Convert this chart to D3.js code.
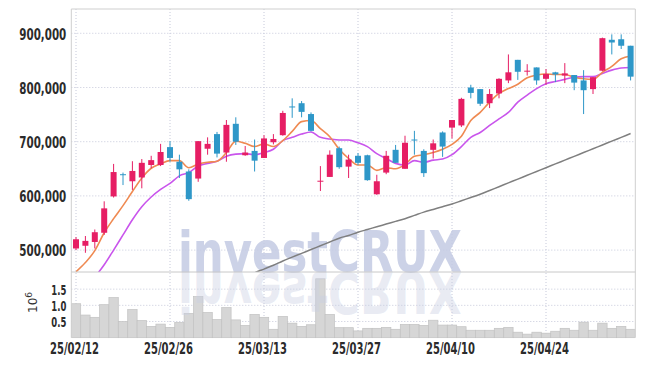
<!DOCTYPE html>
<html><head><meta charset="utf-8">
<script src="https://cdn.jsdelivr.net/npm/d3@7"></script>
<style>
html,body{margin:0;padding:0;background:#fff;}
svg{display:block;}
.tick text{font-family:"DejaVu Sans Condensed","DejaVu Sans",sans-serif;}
</style></head>
<body>
<svg id="chart" width="645" height="366"></svg>
<script>
const dates = ["25/02/12","25/02/13","25/02/14","25/02/17","25/02/18","25/02/19","25/02/20","25/02/21","25/02/24","25/02/25",
"25/02/26","25/02/27","25/02/28","25/03/04","25/03/05","25/03/06","25/03/07","25/03/10","25/03/11","25/03/12",
"25/03/13","25/03/14","25/03/17","25/03/18","25/03/19","25/03/20","25/03/21","25/03/24","25/03/25","25/03/26",
"25/03/27","25/03/28","25/03/31","25/04/01","25/04/02","25/04/03","25/04/04","25/04/07","25/04/08","25/04/09",
"25/04/10","25/04/11","25/04/14","25/04/15","25/04/16","25/04/17","25/04/18","25/04/21","25/04/22","25/04/23",
"25/04/24","25/04/25","25/04/28","25/04/29","25/04/30","25/05/02","25/05/07","25/05/08","25/05/09","25/05/12"];
const xTickLabels = ["25/02/12","25/02/26","25/03/13","25/03/27","25/04/10","25/04/24"];
// prices in thousands of won
const open  = [503,508,515,532,599,640,627,634,657,657,690,663,645,632,687,714,680,733,675,683,670,699,712,765,771,751,627,635,688,654,674,675,603,643,685,650,704,683,685,717,726,730,800,797,771,789,813,851,830,837,816,828,822,823,813,797,831,888,889,877];
const high  = [524,526,538,590,659,643,664,668,674,696,701,676,649,701,708,718,740,745,692,704,712,714,757,780,775,754,655,684,691,676,679,676,639,683,694,711,720,686,704,719,740,781,805,797,797,817,861,851,843,837,834,829,845,823,832,819,892,898,898,877];
const low   = [500,495,503,528,597,620,611,614,651,655,663,633,591,626,676,671,663,694,674,645,670,695,711,744,745,719,609,635,650,633,657,628,602,640,661,650,676,635,669,672,706,727,780,766,762,780,808,814,822,805,805,810,808,795,751,788,830,861,871,813];
const close = [520,517,533,577,644,639,646,661,666,681,670,649,594,701,696,678,731,700,680,665,706,705,753,764,755,720,628,676,653,667,661,629,627,674,661,698,703,642,697,691,740,779,790,770,788,816,828,829,831,813,825,824,826,809,795,819,891,883,877,820];
const ma5   = [460,477,499,532,558,582,608,633,651,659,665,665,652,659,662,664,680,701,697,691,696,691,702,719,737,739,724,709,686,669,657,657,647,652,650,658,673,676,680,686,695,710,739,754,773,789,798,806,818,823,825,824,824,819,816,815,828,839,853,858];
const ma10  = [410,428,450,473,500,528,556,580,598,612,623,637,643,655,660,664,673,677,678,676,680,686,702,708,714,718,708,705,703,703,698,691,678,669,660,657,665,662,666,668,676,691,708,717,730,742,754,773,786,798,807,811,815,819,820,820,826,832,836,837];
const ma60  = [null,null,null,null,null,null,null,null,null,null,null,null,null,null,null,null,null,null,448,458,465,472,480,487,494,501,508,515,522,527,533,538,543,548,553,558,564,570,575,580,585,591,597,603,610,617,624,631,638,645,652,659,666,673,680,687,694,701,708,715];
// volume in millions of shares
const volume = [1.05,0.70,0.63,1.02,1.24,0.50,0.87,0.53,0.35,0.42,0.32,0.47,0.75,1.27,0.78,0.56,0.93,0.55,0.38,0.72,0.63,0.26,0.66,0.45,0.35,0.40,1.82,0.72,0.31,0.31,0.21,0.29,0.29,0.32,0.26,0.41,0.41,0.38,0.54,0.39,0.39,0.34,0.23,0.23,0.23,0.29,0.32,0.17,0.11,0.17,0.14,0.20,0.29,0.23,0.48,0.23,0.45,0.29,0.35,0.26];
const priceTicks = [500000,600000,700000,800000,900000];
const volTicks = [0.5,1.0,1.5];

const svg = d3.select("#chart");
const L = 71.3, R = 635.3, T = 9, MB = 272, VB = 337.7;
const UP = "#e61e64", DOWN = "#2e97c8";

const x = d3.scaleBand().domain(dates).range([L, R]).padding(0);
const bw = x.bandwidth();
const cx = d => x(d) + bw / 2;
const y = d3.scaleLinear().domain([459.6, 944.8]).range([MB, T]);
const yv = d3.scaleLinear().domain([0, 2.03]).range([VB, MB]);

const defs = svg.append("defs");
defs.append("clipPath").attr("id","clipMain").append("rect").attr("x",L).attr("y",T).attr("width",R-L).attr("height",MB-T);
defs.append("clipPath").attr("id","clipVol").append("rect").attr("x",L).attr("y",MB).attr("width",R-L).attr("height",VB-MB+1);

const gridColor = "#c6c9da";
svg.append("g").selectAll("line").data(priceTicks).join("line")
  .attr("x1",L).attr("x2",R).attr("y1",d=>y(d/1000)).attr("y2",d=>y(d/1000))
  .attr("stroke",gridColor).attr("stroke-dasharray","1,2");
svg.append("g").selectAll("line").data(volTicks).join("line")
  .attr("x1",L).attr("x2",R).attr("y1",d=>yv(d)).attr("y2",d=>yv(d))
  .attr("stroke",gridColor).attr("stroke-dasharray","1,2");
svg.append("g").selectAll("line").data(xTickLabels).join("line")
  .attr("x1",d=>cx(d)).attr("x2",d=>cx(d)).attr("y1",T).attr("y2",VB)
  .attr("stroke",gridColor).attr("stroke-dasharray","1,2");

// volume bars
svg.append("g").attr("clip-path","url(#clipVol)").selectAll("rect").data(dates).join("rect")
  .attr("x",d=>x(d)).attr("width",bw)
  .attr("y",(d,i)=>yv(volume[i])).attr("height",(d,i)=>VB - yv(volume[i]))
  .attr("fill","#d6d6d6").attr("stroke","#c2c2c2").attr("stroke-width",0.7);

// watermark
const wmFont = '"DejaVu Sans","Liberation Sans",sans-serif';
svg.append("text").attr("x",178).attr("y",272).text("investCRUX")
  .attr("font-family",wmFont).attr("font-weight","bold")
  .attr("font-size",57).attr("textLength",284).attr("lengthAdjust","spacingAndGlyphs")
  .attr("fill","#c3cae3").attr("fill-opacity",0.85);
svg.append("g").attr("clip-path","url(#clipVol)")
  .append("text").attr("transform","translate(0,544) scale(1,-1)").attr("x",178).attr("y",272).text("investCRUX")
  .attr("font-family",wmFont).attr("font-weight","bold")
  .attr("font-size",57).attr("textLength",284).attr("lengthAdjust","spacingAndGlyphs")
  .attr("fill","#c9cfe3").attr("fill-opacity",0.42);

// moving averages
const lineGen = arr => d3.line().defined((d,i)=>arr[i]!=null).x(d=>cx(d)).y((d,i)=>y(arr[i])).curve(d3.curveMonotoneX)(dates);
const gLines = svg.append("g").attr("clip-path","url(#clipMain)");
gLines.append("path").attr("d",lineGen(ma60)).attr("fill","none").attr("stroke","#7f7f7f").attr("stroke-width",1.5);
gLines.append("path").attr("d",lineGen(ma10)).attr("fill","none").attr("stroke","#c955ec").attr("stroke-width",1.6);
gLines.append("path").attr("d",lineGen(ma5)).attr("fill","none").attr("stroke","#ef8a52").attr("stroke-width",1.6);

// candles
const gC = svg.append("g").attr("clip-path","url(#clipMain)");
const col = i => close[i] >= open[i] ? UP : DOWN;
gC.selectAll("line").data(dates).join("line")
  .attr("x1",d=>cx(d)).attr("x2",d=>cx(d))
  .attr("y1",(d,i)=>y(high[i])).attr("y2",(d,i)=>y(low[i]))
  .attr("stroke",(d,i)=>col(i)).attr("stroke-width",1);
const bodyW = 6;
gC.selectAll("rect").data(dates).join("rect")
  .attr("x",d=>cx(d)-bodyW/2).attr("width",bodyW)
  .attr("y",(d,i)=>y(Math.max(open[i],close[i])))
  .attr("height",(d,i)=>Math.max(1, Math.abs(y(open[i])-y(close[i]))))
  .attr("fill",(d,i)=>col(i));

// frame
const frame = svg.append("g").attr("stroke","#cfcfcf").attr("fill","none");
frame.append("line").attr("x1",L).attr("x2",R).attr("y1",T).attr("y2",T);
frame.append("line").attr("x1",L).attr("x2",L).attr("y1",T).attr("y2",VB);
frame.append("line").attr("x1",R).attr("x2",R).attr("y1",T).attr("y2",VB);
frame.append("line").attr("x1",L).attr("x2",R).attr("y1",MB).attr("y2",MB).attr("stroke","#c8c8c8");

// axes
const yAxis = d3.axisLeft(y).tickValues(priceTicks.map(d=>d/1000)).tickSize(0).tickPadding(5)
  .tickFormat((d,i)=>d3.format(",")(priceTicks[i]));
const gy = svg.append("g").attr("transform",`translate(${L},0)`).call(yAxis);
gy.select(".domain").remove();
gy.selectAll("text").attr("font-size",16).attr("font-weight","bold").attr("fill","#2b2b2b").attr("dy","0.36em")
  .attr("textLength",47).attr("lengthAdjust","spacingAndGlyphs");

const vAxis = d3.axisLeft(yv).tickValues(volTicks).tickSize(0).tickPadding(5).tickFormat(d3.format(".1f"));
const gv = svg.append("g").attr("transform",`translate(${L},0)`).call(vAxis);
gv.select(".domain").remove();
gv.selectAll("text").attr("font-size",13.5).attr("font-weight","bold").attr("fill","#2b2b2b").attr("dy","0.36em")
  .attr("textLength",15).attr("lengthAdjust","spacingAndGlyphs");

const xAxis = d3.axisBottom(x).tickValues(xTickLabels).tickSize(0).tickPadding(5);
const gx = svg.append("g").attr("transform",`translate(-1.5,${VB})`).call(xAxis);
gx.select(".domain").remove();
gx.selectAll("text").attr("font-size",15.5).attr("font-weight","bold").attr("fill","#2b2b2b")
  .attr("textLength",49).attr("lengthAdjust","spacingAndGlyphs");

// unit label 10^6
const ul = svg.append("text").attr("transform","translate(37,313) rotate(-90)")
  .attr("font-family",'"DejaVu Sans","Liberation Sans",sans-serif').attr("font-size",12).attr("fill","#333");
ul.append("tspan").text("10");
ul.append("tspan").attr("font-size",9).attr("dy",-5).text("6");
</script>
</body></html>
